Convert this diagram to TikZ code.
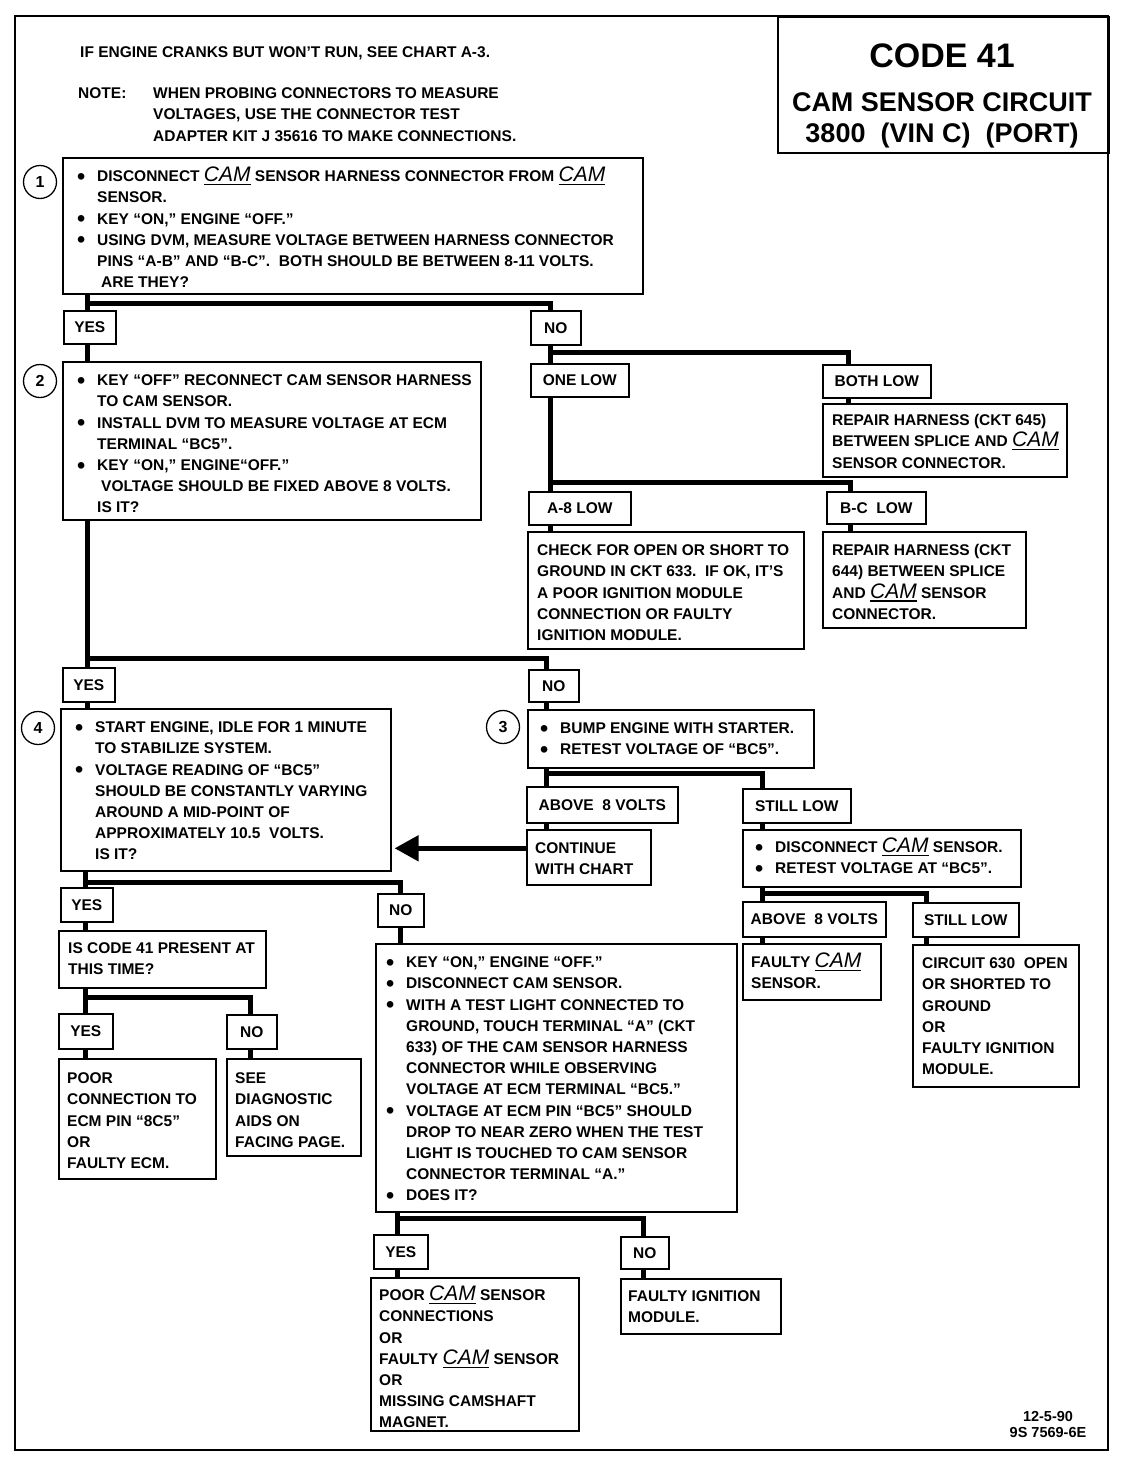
\documentclass[tikz,border=0pt]{standalone}
\usepackage{fontspec}
\usepackage{graphicx}
\setmainfont{Liberation Sans}
\usetikzlibrary{arrows.meta,calc}
\newcommand\bl{\makebox[20pt][l]{\raisebox{-2.6pt}{\scalebox{1.5}{\textbullet}}}}
\newcommand\myind{\hspace*{20pt}}
\newcommand\st{\rule{0pt}{16pt}}
\newcommand\camu{\setbox0=\hbox{\fontsize{21}{21}\selectfont\mdseries\itshape CAM}\rlap{\rule[-3.5pt]{\wd0}{1.3pt}}\box0}
\newcommand\mkbox[6]{\node[bx,minimum width={#4pt-#2pt},minimum height={#5pt-#3pt}] (#1) at (#2,#3) {#6};}
\newcommand\tn[4]{\node[txt] (#1) at (#2,#3) {\st #4};}
\tikzset{
  body/.style={font=\fontsize{15.5}{21.2}\selectfont\bfseries},
  bx/.style={draw,line width=1.6pt,anchor=north west,inner sep=0pt,body},
  txt/.style={anchor=north west,inner sep=0pt,align=left,body,yshift=16pt},
  plain/.style={anchor=base west,inner sep=0pt,body},
  conn/.style={line width=5pt},
  numc/.style={circle,draw,line width=1.3pt,minimum size=33pt,inner sep=0pt,font=\fontsize{16}{16}\selectfont\bfseries},
  ttl/.style={anchor=base,inner sep=0pt,font=\bfseries}
}
\begin{document}
\begin{tikzpicture}[x=1pt,y=-1pt]
\useasboundingbox (0,0) rectangle (1120,1472);
\fill[white] (0,0) rectangle (1120,1472);
% frame
\draw[line width=2.5pt] (15,16) rectangle (1108,1450);
\mkbox{title}{777}{16}{1108}{152}{}
\node[ttl,font=\fontsize{34}{34}\selectfont\bfseries] (t1) at (942,67) {CODE 41};
\node[ttl,font=\fontsize{27}{27}\selectfont\bfseries] (t2) at (942,111) {CAM SENSOR CIRCUIT};
\node[ttl,font=\fontsize{27}{27}\selectfont\bfseries] (t3) at (942,142) {3800\ \ (VIN C)\ \ (PORT)};
% header
\node[plain] (h1) at (80,57.5) {IF ENGINE CRANKS BUT WON’T RUN, SEE CHART A-3.};
\node[plain] (h2) at (78,98.5) {NOTE:};
\tn{h3}{153}{98.5}{WHEN PROBING CONNECTORS TO MEASURE\\VOLTAGES, USE THE CONNECTOR TEST\\ADAPTER KIT J 35616 TO MAKE CONNECTIONS.}
% boxes
\mkbox{b1}{62}{157}{642}{293}{}
\mkbox{yes1}{63}{310}{115}{343}{YES}
\mkbox{no1}{530}{310}{580}{344}{NO}
\mkbox{b2}{62}{361}{480}{519}{}
\mkbox{onelow}{530}{363}{628}{396}{ONE LOW}
\mkbox{bothlow}{822}{364}{930}{397}{BOTH LOW}
\mkbox{rep645}{822}{403}{1066}{476}{}
\mkbox{ab8}{528}{491}{630}{524}{A-8 LOW}
\mkbox{bclow}{826}{491}{925}{523}{B-C\ \ LOW}
\mkbox{check}{527}{531}{803}{648}{}
\mkbox{rep644}{822}{531}{1025}{627}{}
\mkbox{yes2}{62}{667}{114}{701}{YES}
\mkbox{no2}{528}{669}{578}{701}{NO}
\mkbox{b4}{60}{708}{390}{870}{}
\mkbox{b3}{527}{709}{813}{767}{}
\mkbox{above1}{526}{786}{677}{822}{ABOVE\ \ 8 VOLTS}
\mkbox{still1}{742}{788}{850}{822}{STILL LOW}
\mkbox{cont}{526}{829}{650}{884}{}
\mkbox{disc}{742}{829}{1020}{886}{}
\mkbox{above2}{742}{901}{885}{936}{ABOVE\ \ 8 VOLTS}
\mkbox{still2}{912}{902}{1018}{936}{STILL LOW}
\mkbox{faultycam}{742}{943}{880}{999}{}
\mkbox{circ}{912}{944}{1078}{1086}{}
\mkbox{yes3}{60}{887}{112}{921}{YES}
\mkbox{no3}{377}{893}{423}{926}{NO}
\mkbox{iscode}{58}{930}{265}{987}{}
\mkbox{yes4}{58}{1013}{112}{1048}{YES}
\mkbox{no4}{226}{1014}{276}{1048}{NO}
\mkbox{poor}{58}{1058}{215}{1178}{}
\mkbox{see}{226}{1058}{360}{1155}{}
\mkbox{big}{375}{943}{736}{1211}{}
\mkbox{yes5}{373}{1234}{427}{1268}{YES}
\mkbox{no5}{620}{1236}{668}{1268}{NO}
\mkbox{poorcam}{370}{1277}{578}{1430}{}
\mkbox{faultyign}{620}{1278}{780}{1333}{}
% number circles
\node[numc] (c1) at (40,182) {1};
\node[numc] (c2) at (40,381) {2};
\node[numc] (c4) at (38,728) {4};
\node[numc] (c3) at (503,727) {3};
% texts
\tn{b1t}{77}{181.5}{\bl DISCONNECT \camu\ SENSOR HARNESS CONNECTOR FROM \camu\\
\myind SENSOR.\\
\bl KEY “ON,” ENGINE “OFF.”\\
\bl USING DVM, MEASURE VOLTAGE BETWEEN HARNESS CONNECTOR\\
\myind PINS “A-B” AND “B-C”.\ \ BOTH SHOULD BE BETWEEN 8-11 VOLTS.\\
\myind\hspace*{4pt}ARE THEY?}
\tn{b2t}{77}{385.5}{\bl KEY “OFF” RECONNECT CAM SENSOR HARNESS\\
\myind TO CAM SENSOR.\\
\bl INSTALL DVM TO MEASURE VOLTAGE AT ECM\\
\myind TERMINAL “BC5”.\\
\bl KEY “ON,” ENGINE“OFF.”\\
\myind\hspace*{4pt}VOLTAGE SHOULD BE FIXED ABOVE 8 VOLTS.\\
\myind IS IT?}
\tn{rep645t}{832}{425.5}{REPAIR HARNESS (CKT 645)\\BETWEEN SPLICE AND \camu\\SENSOR CONNECTOR.}
\tn{checkt}{537}{555.5}{CHECK FOR OPEN OR SHORT TO\\GROUND IN CKT 633.\ \ IF OK, IT’S\\A POOR IGNITION MODULE\\CONNECTION OR FAULTY\\IGNITION MODULE.}
\tn{rep644t}{832}{555.5}{REPAIR HARNESS (CKT\\644) BETWEEN SPLICE\\AND \camu\ SENSOR\\CONNECTOR.}
\tn{b4t}{75}{732.5}{\bl START ENGINE, IDLE FOR 1 MINUTE\\
\myind TO STABILIZE SYSTEM.\\
\bl VOLTAGE READING OF “BC5”\\
\myind SHOULD BE CONSTANTLY VARYING\\
\myind AROUND A MID-POINT OF\\
\myind APPROXIMATELY 10.5\ \ VOLTS.\\
\myind IS IT?}
\tn{b3t}{540}{733.5}{\bl BUMP ENGINE WITH STARTER.\\\bl RETEST VOLTAGE OF “BC5”.}
\tn{contt}{535}{853.5}{CONTINUE\\WITH CHART}
\tn{disct}{755}{852.5}{\bl DISCONNECT \camu\ SENSOR.\\\bl RETEST VOLTAGE AT “BC5”.}
\tn{faultycamt}{751}{967.5}{FAULTY \camu\\SENSOR.}
\tn{circt}{922}{968.5}{CIRCUIT 630\ \ OPEN\\OR SHORTED TO\\GROUND\\OR\\FAULTY IGNITION\\MODULE.}
\tn{iscodet}{68}{953.5}{IS CODE 41 PRESENT AT\\THIS TIME?}
\tn{poort}{67}{1083.5}{POOR\\CONNECTION TO\\ECM PIN “8C5”\\OR\\FAULTY ECM.}
\tn{seet}{235}{1083.5}{SEE\\DIAGNOSTIC\\AIDS ON\\FACING PAGE.}
\tn{bigt}{386}{967.5}{\bl KEY “ON,” ENGINE “OFF.”\\
\bl DISCONNECT CAM SENSOR.\\
\bl WITH A TEST LIGHT CONNECTED TO\\
\myind GROUND, TOUCH TERMINAL “A” (CKT\\
\myind 633) OF THE CAM SENSOR HARNESS\\
\myind CONNECTOR WHILE OBSERVING\\
\myind VOLTAGE AT ECM TERMINAL “BC5.”\\
\bl VOLTAGE AT ECM PIN “BC5” SHOULD\\
\myind DROP TO NEAR ZERO WHEN THE TEST\\
\myind LIGHT IS TOUCHED TO CAM SENSOR\\
\myind CONNECTOR TERMINAL “A.”\\
\bl DOES IT?}
\tn{poorcamt}{379}{1300.5}{POOR \camu\ SENSOR\\CONNECTIONS\\OR\\FAULTY \camu\ SENSOR\\OR\\MISSING CAMSHAFT\\MAGNET.}
\tn{faultyignt}{628}{1301.5}{FAULTY IGNITION\\MODULE.}
% footer
\node[ttl,font=\fontsize{14.5}{14.5}\selectfont\bfseries] (f1) at (1048,1421) {12-5-90};
\node[ttl,font=\fontsize{14.5}{14.5}\selectfont\bfseries] (f2) at (1048,1437) {9S 7569-6E};
% junctions
\coordinate (j1) at (87,303); \coordinate (k1) at (550,303);
\coordinate (j2) at (87,658); \coordinate (k2) at (546,658);
\coordinate (j3) at (546,773); \coordinate (k3) at (762,773);
\coordinate (j4) at (762,893); \coordinate (k4) at (926,893);
\coordinate (j5) at (550,352); \coordinate (k5) at (848,352);
\coordinate (j6) at (550,482); \coordinate (k6) at (850,482);
\coordinate (j7) at (85,882); \coordinate (k7) at (400,882);
\coordinate (j8) at (85,997); \coordinate (k8) at (250,997);
\coordinate (j9) at (397,1218); \coordinate (k9) at (643,1218);
% connectors
\draw[conn] (b1.south -| j1) -- (yes1.north -| j1) (j1) -- (k1) -- (no1.north -| k1);
\draw[conn] (yes1.south -| j1) -- (b2.north -| j1);
\draw[conn] (b2.south -| j2) -- (yes2.north -| j2) (j2) -- (k2) -- (no2.north -| k2);
\draw[conn] (yes2.south -| j2) -- (b4.north -| j2);
\draw[conn] (no2.south -| k2) -- (b3.north -| k2);
\draw[conn] (b3.south -| j3) -- (above1.north -| j3) (j3) -- (k3) -- (still1.north -| k3);
\draw[conn] (above1.south -| j3) -- (cont.north -| j3);
\draw[conn] (still1.south -| k3) -- (disc.north -| k3);
\draw[conn] (disc.south -| j4) -- (above2.north -| j4) (j4) -- (k4) -- (still2.north -| k4);
\draw[conn] (above2.south -| j4) -- (faultycam.north -| j4);
\draw[conn] (still2.south -| k4) -- (circ.north -| k4);
\draw[conn] (no1.south -| j5) -- (onelow.north -| j5) (j5) -- (k5) -- (bothlow.north -| k5);
\draw[conn] (bothlow.south -| k5) -- (rep645.north -| k5);
\draw[conn] (onelow.south -| j6) -- (ab8.north -| j6) (j6) -- (k6) -- (bclow.north -| k6);
\draw[conn] (ab8.south -| j6) -- (check.north -| j6);
\draw[conn] (bclow.south -| k6) -- (rep644.north -| k6);
\draw[conn] (b4.south -| j7) -- (yes3.north -| j7) (j7) -- (k7) -- (no3.north -| k7);
\draw[conn] (yes3.south -| j7) -- (iscode.north -| j7);
\draw[conn] (no3.south -| k7) -- (big.north -| k7);
\draw[conn] (iscode.south -| j8) -- (yes4.north -| j8) (j8) -- (k8) -- (no4.north -| k8);
\draw[conn] (yes4.south -| j8) -- (poor.north -| j8);
\draw[conn] (no4.south -| k8) -- (see.north -| k8);
\draw[conn] (big.south -| j9) -- (yes5.north -| j9) (j9) -- (k9) -- (no5.north -| k9);
\draw[conn] (yes5.south -| j9) -- (poorcam.north -| j9);
\draw[conn] (no5.south -| k9) -- (faultyign.north -| k9);
\draw[conn,-{Triangle[length=24pt,width=25pt]},shorten >=3pt] ([yshift=9pt]cont.west) -- ([yshift=9pt]b4.east |- cont.west);
\end{tikzpicture}
\end{document}
